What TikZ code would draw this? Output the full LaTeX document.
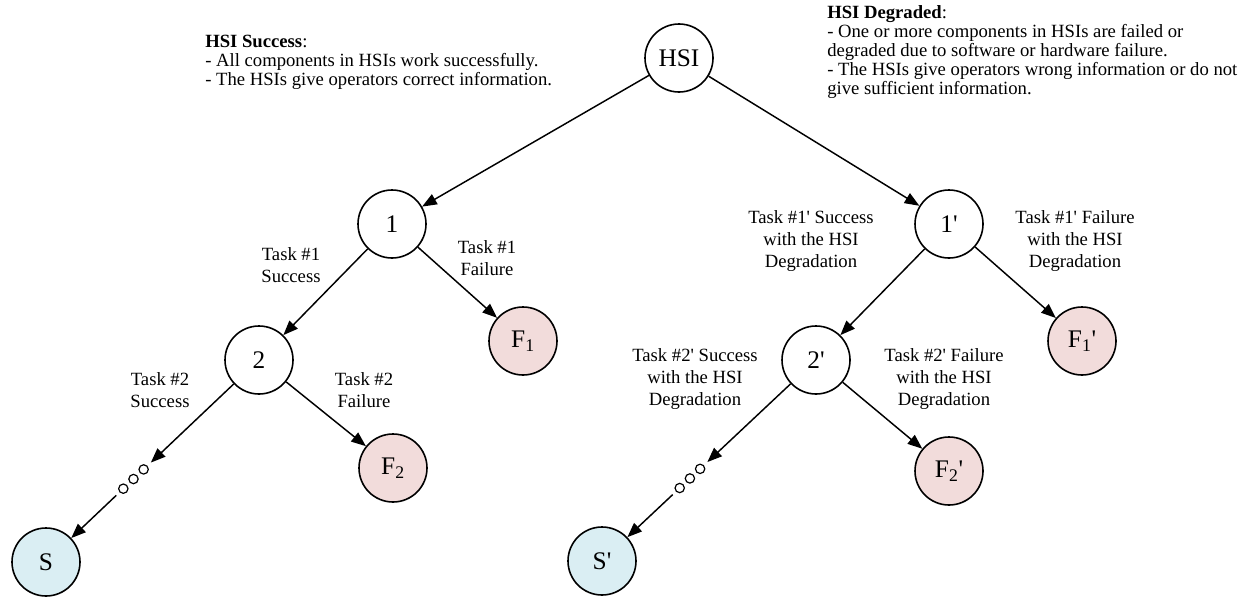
\documentclass[tikz,border=0pt]{standalone}
\usepackage{fontspec}
\setmainfont{Liberation Serif}
\usetikzlibrary{arrows.meta,calc}
\definecolor{failfill}{HTML}{F2DCDB}
\definecolor{succfill}{HTML}{DAEEF3}
\newcommand\pr{\textquotesingle}
\begin{document}
\begin{tikzpicture}[x=0.75pt,y=-0.75pt,
  state/.style={circle,draw,line width=1.2pt,minimum size=51pt,inner sep=0pt,
    font=\fontsize{19}{19}\selectfont},
  failstate/.style={state,fill=failfill},
  endstate/.style={state,fill=succfill},
  arr/.style={-{Triangle[length=11pt,width=8.5pt]},line width=1.1pt},
  dotc/.style={circle,draw,line width=0.9pt,minimum size=7pt,inner sep=0pt},
  lab/.style={align=center,inner sep=0pt,font=\fontsize{14}{16.5}\selectfont},
  note/.style={align=left,anchor=west,inner sep=0pt,font=\fontsize{14}{14.3}\selectfont}]
\useasboundingbox (0,0) rectangle (1244,596);

% event tree states
\node[state] (hsi) at (679,58) {HSI};
\node[state] (n1) at (392,224) {1};
\node[state] (n1p) at (949,224) {1\pr};
\node[state] (n2) at (259,360) {2};
\node[state] (n2p) at (816,360) {2\pr};
\node[failstate] (f1) at (523,341) {F\textsubscript{1}};
\node[failstate] (f1p) at (1082,341) {F\textsubscript{1}\pr};
\node[failstate] (f2) at (393,468) {F\textsubscript{2}};
\node[failstate] (f2p) at (949,471) {F\textsubscript{2}\pr};
\node[endstate] (s) at (46,562) {S};
\node[endstate] (sp) at (602,561) {S\pr};

% ellipsis dots on the success paths
\node[dotc] (d1) at ($(n2)!119.25pt!(s)$) {};
\node[dotc] (d2) at ($(n2)!129.75pt!(s)$) {};
\node[dotc] (d3) at ($(n2)!140.25pt!(s)$) {};
\node[dotc] (dp1) at ($(n2p)!119.25pt!(sp)$) {};
\node[dotc] (dp2) at ($(n2p)!129.75pt!(sp)$) {};
\node[dotc] (dp3) at ($(n2p)!140.25pt!(sp)$) {};

% branches
\draw[arr] (hsi) -- (n1);
\draw[arr] (hsi) -- (n1p);
\draw[arr] (n1) -- (n2);
\draw[arr] (n1) -- (f1);
\draw[arr] (n1p) -- (n2p);
\draw[arr] (n1p) -- (f1p);
\draw[arr] (n2) -- (f2);
\draw[arr] (n2p) -- (f2p);
\draw[arr,shorten >=3.5pt] (n2) -- (d1);
\draw[arr,shorten <=3.3pt] (d3) -- (s);
\draw[arr,shorten >=3.5pt] (n2p) -- (dp1);
\draw[arr,shorten <=3.3pt] (dp3) -- (sp);

% branch labels
\node[lab] (l1s) at (291,265) {Task \#1\\Success};
\node[lab] (l1f) at (487,258) {Task \#1\\Failure};
\node[lab] (l2s) at (160,390) {Task \#2\\Success};
\node[lab] (l2f) at (364,390) {Task \#2\\Failure};
\node[lab] (l1ps) at (811,241) {Task \#1\pr{} Success\\with the HSI\\Degradation};
\node[lab] (l1pf) at (1075,241) {Task \#1\pr{} Failure\\with the HSI\\Degradation};
\node[lab] (l2ps) at (695,379) {Task \#2\pr{} Success\\with the HSI\\Degradation};
\node[lab] (l2pf) at (944,379) {Task \#2\pr{} Failure\\with the HSI\\Degradation};

% condition descriptions
\node[note] (hs) at (205,62) {\textbf{HSI Success}:\\- All components in HSIs work successfully.\\- The HSIs give operators correct information.};
\node[note] (hd) at (827,52) {\textbf{HSI Degraded}:\\- One or more components in HSIs are failed or\\degraded due to software or hardware failure.\\- The HSIs give operators wrong information or do not\\give sufficient information.};
\end{tikzpicture}
\end{document}
